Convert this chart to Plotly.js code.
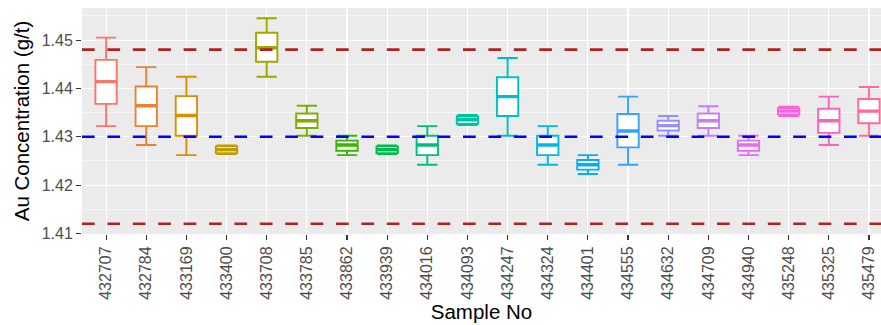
<!DOCTYPE html>
<html>
<head>
<meta charset="utf-8">
<script src="https://cdn.plot.ly/plotly-3.0.1.min.js"></script>
<style>html,body{margin:0;padding:0;background:#fff;}#chart{width:881px;height:325px;}</style>
</head>
<body>
<div id="chart"></div>
<script>
// Data
const samples = ["432707","432784","433169","433400","433708","433785","433862","433939","434016","434093",
                 "434247","434324","434401","434555","434632","434709","434940","435248","435325","435479"];
const lowerWhisker = [1.4322,1.4283,1.4262,1.4264,1.4424,1.4302,1.4262,1.4264,1.4242,1.4324,
                      1.4302,1.4242,1.4223,1.4242,1.4302,1.4302,1.4262,1.4343,1.4283,1.4302];
const q1Values     = [1.4368,1.4322,1.4302,1.4266,1.4455,1.4318,1.4271,1.4266,1.4262,1.4327,
                      1.4343,1.4262,1.4232,1.4278,1.4313,1.4318,1.4271,1.4346,1.4308,1.4328];
const medianValues = [1.4414,1.4364,1.4344,1.4273,1.4484,1.4333,1.4283,1.4273,1.4283,1.4335,
                      1.4383,1.4283,1.4242,1.4312,1.4323,1.4333,1.4283,1.4353,1.4333,1.4353];
const q3Values     = [1.4459,1.4404,1.4384,1.4280,1.4515,1.4348,1.4292,1.4280,1.4302,1.4342,
                      1.4423,1.4302,1.4252,1.4347,1.4333,1.4348,1.4292,1.4359,1.4358,1.4378];
const upperWhisker = [1.4505,1.4444,1.4424,1.4282,1.4545,1.4364,1.4302,1.4282,1.4322,1.4345,
                      1.4463,1.4322,1.4262,1.4383,1.4343,1.4363,1.4302,1.4362,1.4383,1.4403];
const boxColors = ["#F8766D","#EA8331","#D89000","#C09B00","#A3A500","#7CAE00","#39B600","#00BB4E","#00BF7D","#00C1A3",
                   "#00BFC4","#00BAE0","#00B0F6","#35A2FF","#9590FF","#C77CFF","#E76BF3","#FA62DB","#FF62BC","#FF6C91"];
const upperLimit = 1.448;
const targetValue = 1.430;
const lowerLimit = 1.412;
const yTickVals = [1.41, 1.42, 1.43, 1.44, 1.45];

const font = '"Liberation Sans", Arial, Helvetica, sans-serif';

const boxTraces = samples.map((s, i) => ({
  type: 'box',
  x: [s],
  q1: [q1Values[i]],
  median: [medianValues[i]],
  q3: [q3Values[i]],
  lowerfence: [lowerWhisker[i]],
  upperfence: [upperWhisker[i]],
  fillcolor: '#FFFFFF',
  line: {color: boxColors[i], width: 1.9},
  whiskerwidth: 0.95,
  boxpoints: false,
  showlegend: false,
  hoverinfo: 'skip'
}));

// Thicker median bar, as in ggplot (degenerate box at the median)
const medianTraces = samples.map((s, i) => ({
  type: 'box',
  x: [s],
  q1: [medianValues[i]],
  median: [medianValues[i]],
  q3: [medianValues[i]],
  lowerfence: [medianValues[i]],
  upperfence: [medianValues[i]],
  fillcolor: 'rgba(0,0,0,0)',
  line: {color: boxColors[i], width: 3.4},
  whiskerwidth: 0,
  boxpoints: false,
  showlegend: false,
  hoverinfo: 'skip'
}));

function hline(y, color) {
  return {type: 'line', xref: 'paper', x0: 0, x1: 1, yref: 'y', y0: y, y1: y,
          line: {color: color, width: 2.7, dash: '12.7px,12.7px'}, layer: 'above'};
}

const layout = {
  width: 881, height: 325,
  margin: {l: 82, r: 0, t: 8, b: 91, pad: 0},
  paper_bgcolor: '#FFFFFF',
  plot_bgcolor: '#EBEBEB',
  font: {family: font, color: '#4D4D4D', size: 16},
  boxgap: 0.24,
  boxmode: 'overlay',
  xaxis: {
    type: 'category',
    categoryorder: 'array', categoryarray: samples,
    range: [-0.6, 19.3],
    showgrid: true, gridcolor: '#FFFFFF', gridwidth: 1.1,
    zeroline: false, showline: false,
    ticks: 'outside', ticklen: 5, tickwidth: 1.1, tickcolor: '#333333',
    tickangle: -90,
    tickfont: {family: font, size: 16, color: '#4D4D4D'},
    title: {text: 'Sample No', font: {family: font, size: 20.5, color: '#000000'}, standoff: 4},
    fixedrange: true
  },
  yaxis: {
    range: [1.40988, 1.45663],
    tickmode: 'array', tickvals: yTickVals, ticktext: yTickVals.map(v => v.toFixed(2)),
    showgrid: true, gridcolor: '#FFFFFF', gridwidth: 1.1,
    minor: {dtick: 0.005, tick0: 1.405, showgrid: true, gridcolor: '#FFFFFF', gridwidth: 0.55},
    zeroline: false, showline: false,
    ticks: 'outside', ticklen: 5, tickwidth: 1.1, tickcolor: '#333333',
    tickfont: {family: font, size: 16, color: '#4D4D4D'},
    title: {text: 'Au Concentration (g/t)', font: {family: font, size: 20.5, color: '#000000'}, standoff: 6},
    fixedrange: true
  },
  shapes: [hline(upperLimit, '#B22222'), hline(targetValue, '#0000FF'), hline(lowerLimit, '#B22222')]
};

Plotly.newPlot('chart', boxTraces.concat(medianTraces), layout, {displayModeBar: false, staticPlot: true});
</script>
</body>
</html>
